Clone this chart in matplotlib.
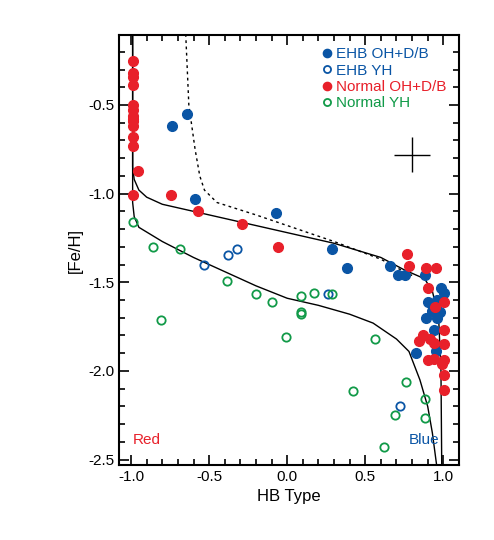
import numpy as np
import matplotlib.pyplot as plt
from matplotlib.ticker import MultipleLocator

plt.rcParams['font.family'] = ['Liberation Sans', 'DejaVu Sans']
plt.rcParams['font.size'] = 11
plt.rcParams['axes.unicode_minus'] = False

RED = '#e8202a'
BLUE = '#0a55a5'
GREEN = '#119a48'

# EHB OH+D/B (filled blue)
ehb_oh_x = [-0.64, -0.735, -0.59, -0.07, 0.29, 0.38, 0.66, 0.71, 0.756, 0.885, 0.985, 1.006,
            0.96, 0.90, 0.93, 0.976, 0.89, 0.96, 0.94, 0.955, 0.825]
ehb_oh_y = [-0.55, -0.62, -1.03, -1.11, -1.31, -1.42, -1.41, -1.46, -1.46, -1.46, -1.53, -1.56,
            -1.60, -1.61, -1.66, -1.67, -1.70, -1.70, -1.77, -1.89, -1.90]
# EHB YH (open blue)
ehb_yh_x = [-0.53, -0.376, -0.32, 0.26, 0.72]
ehb_yh_y = [-1.40, -1.345, -1.31, -1.565, -2.20]
# Normal OH+D/B (filled red)
norm_oh_x = [-0.99, -0.99, -0.99, -0.99, -0.99, -0.99, -0.99, -0.99, -0.99, -0.99, -0.99, -0.99,
             -0.953, -0.99, -0.745, -0.57, -0.29, -0.06,
             0.77, 0.78, 0.89, 0.95, 0.905, 1.006, 0.945, 1.006, 0.87, 0.846, 0.917, 0.94,
             1.006, 0.90, 0.94, 1.006, 0.99, 1.006, 1.006]
norm_oh_y = [-0.25, -0.32, -0.34, -0.39, -0.50, -0.53, -0.56, -0.59, -0.62, -0.68, -0.73, -0.58,
             -0.87, -1.01, -1.01, -1.10, -1.17, -1.30,
             -1.34, -1.41, -1.42, -1.42, -1.53, -1.61, -1.64, -1.77, -1.80, -1.83, -1.82, -1.84,
             -1.85, -1.94, -1.93, -1.94, -1.96, -2.02, -2.11]
# Normal YH (open green)
norm_yh_x = [-0.99, -0.857, -0.686, -0.387, -0.197, -0.10, 0.09, 0.09, 0.09, -0.01, -0.81,
             0.17, 0.29, 0.56, 0.42, 0.76, 0.69, 0.885, 0.885, 0.62]
norm_yh_y = [-1.16, -1.30, -1.31, -1.49, -1.565, -1.61, -1.58, -1.68, -1.67, -1.81, -1.715,
             -1.56, -1.565, -1.82, -2.115, -2.06, -2.25, -2.16, -2.265, -2.43]

# model tracks
upper_x = [-0.99, -0.99, -0.98, -0.95, -0.9, -0.8, -0.5, -0.2, 0.0, 0.3, 0.6, 0.75, 0.88, 0.93, 0.97, 0.985, 0.99]
upper_y = [-0.10, -0.85, -0.92, -0.98, -1.02, -1.06, -1.12, -1.18, -1.22, -1.28, -1.36, -1.43, -1.48, -1.55, -1.70, -2.00, -2.55]
lower_x = [-0.99, -0.99, -0.98, -0.95, -0.8, -0.6, -0.4, -0.2, 0.0, 0.2, 0.4, 0.55, 0.7, 0.78, 0.85, 0.9, 0.93, 0.96]
lower_y = [-0.10, -1.05, -1.13, -1.19, -1.27, -1.36, -1.44, -1.52, -1.59, -1.63, -1.68, -1.73, -1.82, -1.89, -2.05, -2.20, -2.35, -2.55]
dot_x = [-0.65, -0.63, -0.59, -0.56, -0.53, -0.45, -0.2, 0.0, 0.3, 0.6, 0.75, 0.82]
dot_y = [-0.10, -0.50, -0.75, -0.90, -0.98, -1.05, -1.12, -1.18, -1.27, -1.37, -1.44, -1.47]

fig = plt.figure(figsize=(4.94, 5.40), dpi=100)
ax = fig.add_axes([0.241, 0.139, 0.688, 0.796])

ax.plot(upper_x, upper_y, color='black', lw=1)
ax.plot(lower_x, lower_y, color='black', lw=1)
ax.plot(dot_x, dot_y, color='black', lw=1, ls=(0, (2, 2.5)))

ms = 7
ax.plot(ehb_oh_x, ehb_oh_y, 'o', color=BLUE, ms=ms, ls='none', label='EHB OH+D/B')
ax.plot(ehb_yh_x, ehb_yh_y, 'o', mfc='none', mec=BLUE, mew=1.3, ms=6, ls='none', label='EHB YH')
ax.plot(norm_oh_x, norm_oh_y, 'o', color=RED, ms=ms, ls='none', label='Normal OH+D/B')
ax.plot(norm_yh_x, norm_yh_y, 'o', mfc='none', mec=GREEN, mew=1.3, ms=6, ls='none', label='Normal YH')

ax.errorbar([0.80], [-0.78], xerr=0.115, yerr=0.10, color='black', lw=1, capsize=0)

leg = ax.legend(loc='upper right', frameon=False, handletextpad=0.1, borderpad=0.3,
                labelspacing=0.15, handlelength=1.0, fontsize=11, markerscale=0.85)
for t, c in zip(leg.get_texts(), [BLUE, BLUE, RED, GREEN]):
    t.set_color(c)

ax.text(-0.99, -2.41, 'Red', color=RED, fontsize=11)
ax.text(0.78, -2.41, 'Blue', color=BLUE, fontsize=11)

ax.set_xlim(-1.077, 1.1)
ax.set_ylim(-2.53, -0.106)
ax.xaxis.set_major_locator(MultipleLocator(0.5))
ax.xaxis.set_minor_locator(MultipleLocator(0.1))
ax.yaxis.set_major_locator(MultipleLocator(0.5))
ax.yaxis.set_minor_locator(MultipleLocator(0.1))
ax.tick_params(which='both', direction='in', top=True, right=True, width=1.2)
ax.tick_params(which='major', length=7)
ax.tick_params(which='minor', length=4)
for s in ax.spines.values():
    s.set_linewidth(1.5)
ax.set_xlabel('HB Type', fontsize=12)
ax.set_ylabel('[Fe/H]', fontsize=12)

fig.savefig('out.png', dpi=100)
